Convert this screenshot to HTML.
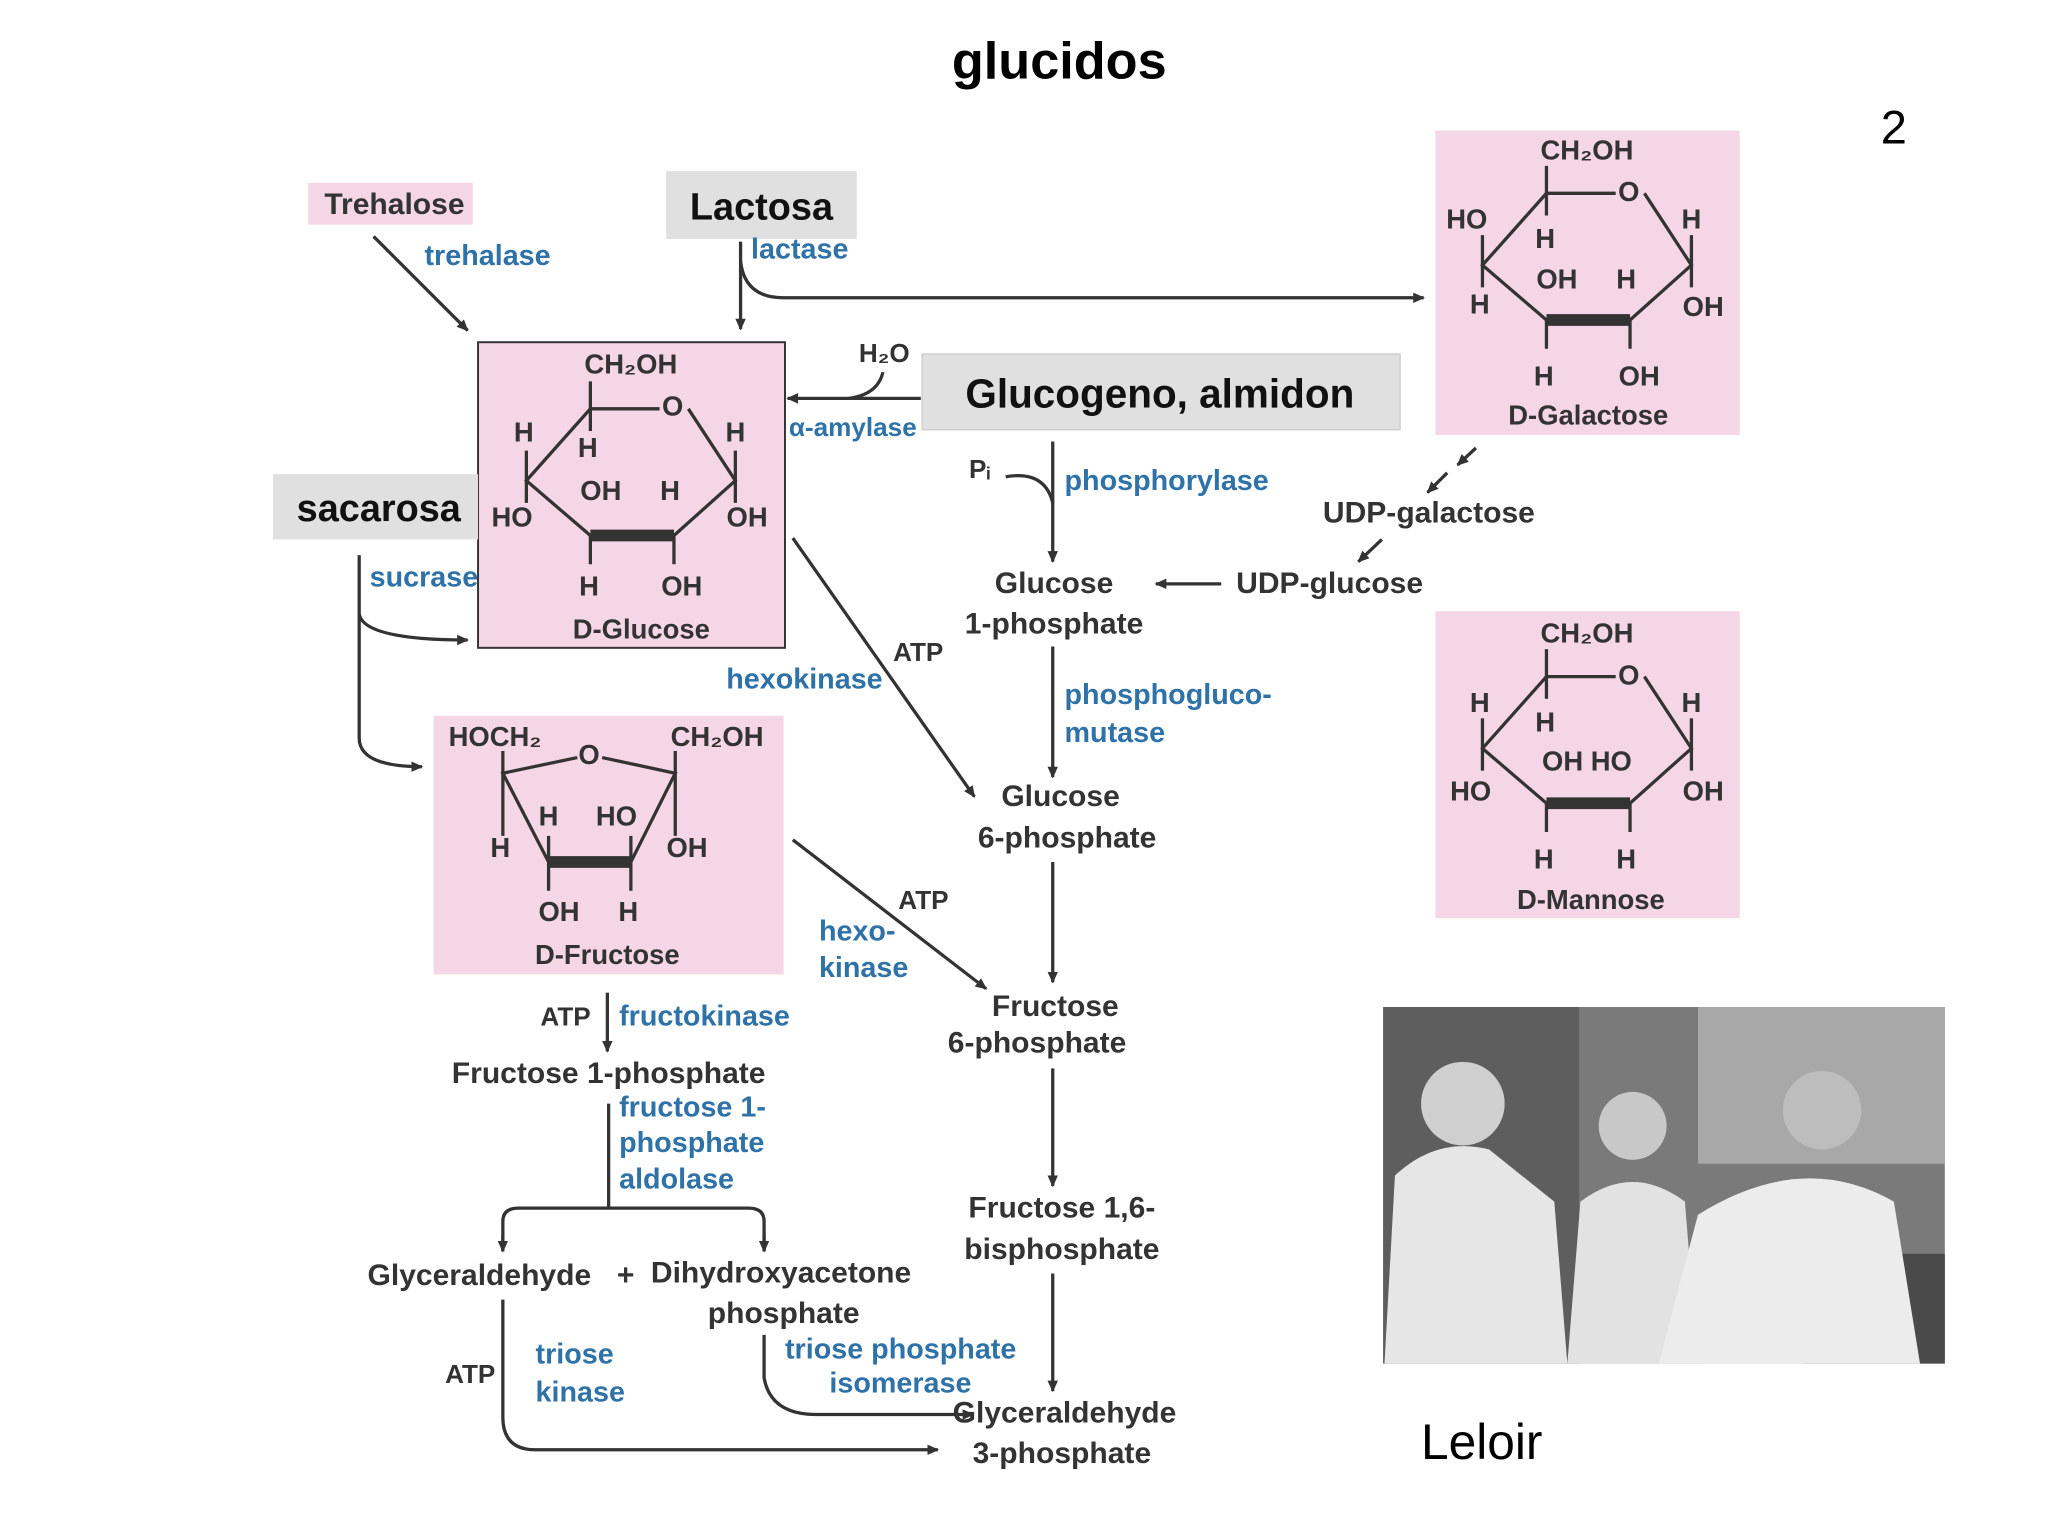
<!DOCTYPE html>
<html><head><meta charset="utf-8"><style>
html,body{margin:0;padding:0;background:#fff}
svg{display:block}
text{font-family:"Liberation Sans","DejaVu Sans",sans-serif}
.c{fill:#333;font-weight:bold;font-size:23px}
.e{fill:#2f72a8;font-weight:bold;font-size:22px}
.r{fill:#333;font-weight:bold;font-size:21px}
</style></head><body>
<svg width="2048" height="1536" viewBox="0 0 1568 1176" xmlns="http://www.w3.org/2000/svg">
<defs>
<marker id="a" markerWidth="10" markerHeight="10" refX="8" refY="5" orient="auto" markerUnits="userSpaceOnUse">
<path d="M0,1 L9,5 L0,9 z" fill="#333"/></marker>
</defs>
<rect width="1568" height="1176" fill="#fff"/>
<text x="811" y="60" text-anchor="middle" font-size="40" font-weight="bold" fill="#000">glucidos</text>
<text x="1450" y="110" text-anchor="middle" font-size="36" fill="#000">2</text>

<rect x="236" y="140" width="126" height="32" fill="#f5d6e6"/>
<text x="302" y="164" text-anchor="middle" class="c" font-size="22">Trehalose</text>
<rect x="510" y="131" width="146" height="52" fill="#e0e0e0"/>
<text x="583" y="168" text-anchor="middle" font-size="29" font-weight="bold" fill="#111">Lactosa</text>
<rect x="366" y="262" width="235" height="234" fill="#f5d6e6" stroke="#333" stroke-width="1.5"/>
<rect x="1099" y="100" width="233" height="233" fill="#f5d6e6"/>
<rect x="1099" y="468" width="233" height="235" fill="#f5d6e6"/>
<rect x="332" y="548" width="268" height="198" fill="#f5d6e6"/>
<rect x="209" y="363" width="157" height="50" fill="#e0e0e0"/>
<text x="290" y="399" text-anchor="middle" font-size="29" font-weight="bold" fill="#111">sacarosa</text>
<rect x="706" y="271" width="366" height="58" fill="#e0e0e0" stroke="#ccc"/>
<text x="888" y="312" text-anchor="middle" font-size="31" font-weight="bold" fill="#111">Glucogeno, almidon</text>

<g stroke="#333" stroke-width="2.5" fill="none">
<polyline points="505,313 452,313 403,368 452,410"/>
<polyline points="527,313 563,368 516,410"/>
<line x1="452" y1="292" x2="452" y2="330"/>
<line x1="403" y1="345" x2="403" y2="385"/>
<line x1="563" y1="345" x2="563" y2="385"/>
<line x1="452" y1="410" x2="452" y2="432"/>
<line x1="516" y1="410" x2="516" y2="432"/>
</g>
<line x1="452" y1="410" x2="516" y2="410" stroke="#333" stroke-width="9"/>
<g class="r" text-anchor="middle">
<text x="483" y="286">CH₂OH</text><text x="515" y="318">O</text>
<text x="401" y="338">H</text><text x="450" y="350">H</text><text x="563" y="338">H</text>
<text x="460" y="383">OH</text><text x="513" y="383">H</text>
<text x="392" y="403">HO</text><text x="572" y="403">OH</text>
<text x="451" y="456">H</text><text x="522" y="456">OH</text>
<text x="491" y="489">D-Glucose</text>
</g>

<g transform="translate(732,-165)">
<g stroke="#333" stroke-width="2.5" fill="none">
<polyline points="505,313 452,313 403,368 452,410"/>
<polyline points="527,313 563,368 516,410"/>
<line x1="452" y1="292" x2="452" y2="330"/>
<line x1="403" y1="345" x2="403" y2="385"/>
<line x1="563" y1="345" x2="563" y2="385"/>
<line x1="452" y1="410" x2="452" y2="432"/>
<line x1="516" y1="410" x2="516" y2="432"/>
</g>
<line x1="452" y1="410" x2="516" y2="410" stroke="#333" stroke-width="9"/>
<g class="r" text-anchor="middle">
<text x="483" y="287">CH₂OH</text><text x="515" y="319">O</text>
<text x="391" y="340">HO</text><text x="451" y="355">H</text><text x="563" y="340">H</text>
<text x="460" y="386">OH</text><text x="513" y="386">H</text>
<text x="401" y="405">H</text><text x="572" y="407">OH</text>
<text x="450" y="460">H</text><text x="523" y="460">OH</text>
<text x="484" y="490">D-Galactose</text>
</g></g>

<g transform="translate(732,205)">
<g stroke="#333" stroke-width="2.5" fill="none">
<polyline points="505,313 452,313 403,368 452,410"/>
<polyline points="527,313 563,368 516,410"/>
<line x1="452" y1="292" x2="452" y2="330"/>
<line x1="403" y1="345" x2="403" y2="385"/>
<line x1="563" y1="345" x2="563" y2="385"/>
<line x1="452" y1="410" x2="452" y2="432"/>
<line x1="516" y1="410" x2="516" y2="432"/>
</g>
<line x1="452" y1="410" x2="516" y2="410" stroke="#333" stroke-width="9"/>
<g class="r" text-anchor="middle">
<text x="483" y="287">CH₂OH</text><text x="515" y="319">O</text>
<text x="401" y="340">H</text><text x="451" y="355">H</text><text x="563" y="340">H</text>
<text x="483" y="385">OH HO</text>
<text x="394" y="408">HO</text><text x="572" y="408">OH</text>
<text x="450" y="460">H</text><text x="513" y="460">H</text>
<text x="486" y="491">D-Mannose</text>
</g></g>

<g stroke="#333" stroke-width="2.5" fill="none">
<polyline points="442,580 385,592 420,660"/>
<polyline points="461,580 517,592 483,660"/>
<line x1="385" y1="575" x2="385" y2="640"/>
<line x1="517" y1="575" x2="517" y2="640"/>
<line x1="420" y1="640" x2="420" y2="682"/>
<line x1="483" y1="640" x2="483" y2="682"/>
</g>
<line x1="420" y1="660" x2="483" y2="660" stroke="#333" stroke-width="9"/>
<g class="r" text-anchor="middle">
<text x="379" y="571">HOCH₂</text><text x="451" y="585">O</text><text x="549" y="571">CH₂OH</text>
<text x="383" y="656">H</text><text x="420" y="632">H</text><text x="472" y="632">HO</text><text x="526" y="656">OH</text>
<text x="428" y="705">OH</text><text x="481" y="705">H</text>
<text x="465" y="738">D-Fructose</text>
</g>

<g stroke="#333" stroke-width="2.5" fill="none">
<line x1="286" y1="181" x2="358" y2="253" marker-end="url(#a)"/>
<line x1="567" y1="185" x2="567" y2="252" marker-end="url(#a)"/>
<path d="M567,200 Q570,228 600,228 L1090,228" marker-end="url(#a)"/>
<path d="M676,285 Q672,302 650,305"/>
<line x1="705" y1="305" x2="603" y2="305" marker-end="url(#a)"/>
<path d="M770,365 Q800,360 806,385"/>
<line x1="806" y1="338" x2="806" y2="430" marker-end="url(#a)"/>
<line x1="935" y1="447" x2="885" y2="447" marker-end="url(#a)"/>
<line x1="1130" y1="343" x2="1116" y2="356" marker-end="url(#a)"/>
<line x1="1108" y1="362" x2="1093" y2="377" marker-end="url(#a)"/>
<line x1="1058" y1="413" x2="1040" y2="430" marker-end="url(#a)"/>
<line x1="806" y1="495" x2="806" y2="595" marker-end="url(#a)"/>
<line x1="607" y1="412" x2="746" y2="610" marker-end="url(#a)"/>
<line x1="806" y1="660" x2="806" y2="752" marker-end="url(#a)"/>
<line x1="607" y1="643" x2="755" y2="757" marker-end="url(#a)"/>
<line x1="806" y1="818" x2="806" y2="908" marker-end="url(#a)"/>
<line x1="806" y1="975" x2="806" y2="1065" marker-end="url(#a)"/>
<path d="M275,425 L275,565 Q275,587 323,587" marker-end="url(#a)"/>
<path d="M275,470 Q278,490 358,490" marker-end="url(#a)"/>
<line x1="465" y1="760" x2="465" y2="805" marker-end="url(#a)"/>
<line x1="466" y1="845" x2="466" y2="925"/>
<path d="M385,958 L385,935 Q385,925 397,925 L573,925 Q585,925 585,935 L585,958" />
<line x1="385" y1="945" x2="385" y2="958" marker-end="url(#a)"/>
<line x1="585" y1="945" x2="585" y2="958" marker-end="url(#a)"/>
<path d="M385,995 L385,1085 Q385,1110 410,1110 L718,1110" marker-end="url(#a)"/>
<path d="M585,1022 L585,1055 Q590,1083 625,1083 L745,1083" marker-end="url(#a)"/>
</g>

<g class="e">
<text x="325" y="203">trehalase</text>
<text x="575" y="198">lactase</text>
<text x="604" y="334" font-size="20">α-amylase</text>
<text x="815" y="375">phosphorylase</text>
<text x="815" y="539">phosphogluco-</text>
<text x="815" y="568">mutase</text>
<text x="556" y="527">hexokinase</text>
<text x="627" y="720">hexo-</text>
<text x="627" y="748">kinase</text>
<text x="283" y="449">sucrase</text>
<text x="474" y="785">fructokinase</text>
<text x="474" y="855">fructose 1-</text>
<text x="474" y="882">phosphate</text>
<text x="474" y="910">aldolase</text>
<text x="410" y="1044">triose</text>
<text x="410" y="1073">kinase</text>
<text x="601" y="1040">triose phosphate</text>
<text x="635" y="1066">isomerase</text>
</g>
<g class="c" text-anchor="middle">
<text x="677" y="277" font-size="20">H₂O</text>
<text x="750" y="366" font-size="20">Pᵢ</text>
<text x="807" y="454">Glucose</text>
<text x="807" y="485">1-phosphate</text>
<text x="1018" y="454">UDP-glucose</text>
<text x="1094" y="400">UDP-galactose</text>
<text x="703" y="506" font-size="20">ATP</text>
<text x="812" y="617">Glucose</text>
<text x="817" y="649">6-phosphate</text>
<text x="707" y="696" font-size="20">ATP</text>
<text x="808" y="778">Fructose</text>
<text x="794" y="806">6-phosphate</text>
<text x="813" y="932">Fructose 1,6-</text>
<text x="813" y="964">bisphosphate</text>
<text x="815" y="1089">Glyceraldehyde</text>
<text x="813" y="1120">3-phosphate</text>
<text x="433" y="785" font-size="20">ATP</text>
<text x="466" y="829">Fructose 1-phosphate</text>
<text x="367" y="984">Glyceraldehyde</text>
<text x="479" y="984">+</text>
<text x="598" y="982">Dihydroxyacetone</text>
<text x="600" y="1013">phosphate</text>
<text x="360" y="1059" font-size="20">ATP</text>
</g>

<rect x="1059" y="771" width="430" height="273" fill="#7a7a7a"/>
<rect x="1059" y="771" width="150" height="273" fill="#5e5e5e"/>
<rect x="1300" y="771" width="189" height="120" fill="#a8a8a8"/>
<rect x="1380" y="960" width="109" height="84" fill="#4a4a4a"/>
<path d="M1060,1044 L1068,900 Q1100,870 1140,880 L1190,920 L1200,1044 Z" fill="#e6e6e6"/>
<circle cx="1120" cy="845" r="32" fill="#cfcfcf"/>
<path d="M1200,1044 L1210,920 Q1250,890 1290,920 L1300,1044 Z" fill="#e2e2e2"/>
<circle cx="1250" cy="862" r="26" fill="#c8c8c8"/>
<path d="M1270,1044 L1300,930 Q1380,880 1450,920 L1470,1044 Z" fill="#ececec"/>
<circle cx="1395" cy="850" r="30" fill="#bdbdbd"/>
<text x="1088" y="1117" font-size="38" fill="#000">Leloir</text>
</svg>
</body></html>
